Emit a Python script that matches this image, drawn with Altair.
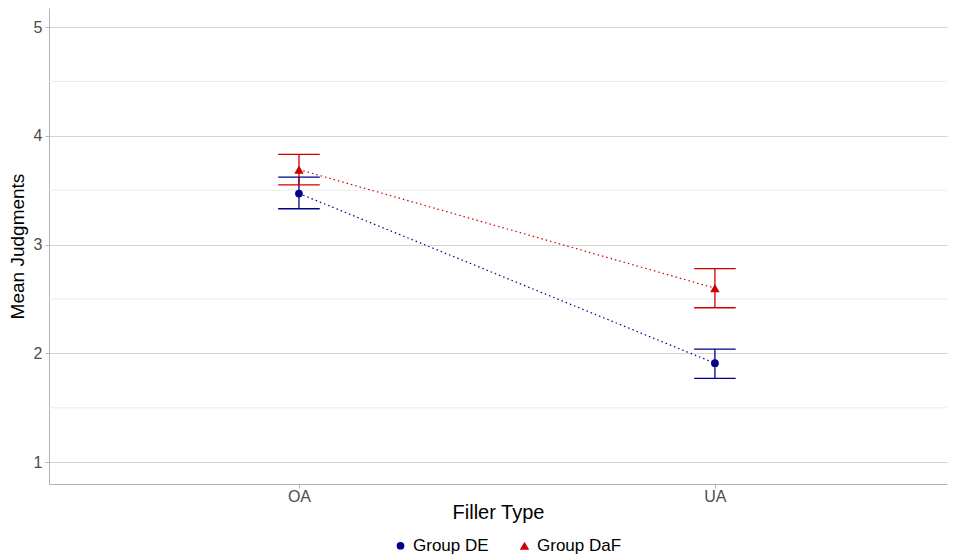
import altair as alt
import pandas as pd

filler = ["OA", "UA"]
groups = ["Group DE", "Group DaF"]
de_mean = [3.47, 1.91]
de_lo = [3.33, 1.77]
de_hi = [3.62, 2.04]
daf_mean = [3.69, 2.60]
daf_lo = [3.55, 2.42]
daf_hi = [3.83, 2.78]
major_ticks = [1, 2, 3, 4, 5]
minor_ticks = [1.5, 2.5, 3.5, 4.5]

rows = []
for g, m, lo, hi in [(groups[0], de_mean, de_lo, de_hi), (groups[1], daf_mean, daf_lo, daf_hi)]:
    for i, f in enumerate(filler):
        rows.append({"group": g, "filler": f, "idx": i + 1, "mean": m[i], "lo": lo[i], "hi": hi[i]})
df = pd.DataFrame(rows)
minor_df = pd.DataFrame({"v": minor_ticks})

colors = ["#00008B", "#CD0000"]
shapes = ["circle", "triangle-up"]
sizes = [60, 90]
FONT = "Liberation Sans"
label_expr = "[" + ",".join("'%s'" % f for f in filler) + "][datum.value-1]"

xscale = alt.Scale(domain=[0.399, 2.558], nice=False, zero=False)
yscale = alt.Scale(domain=[0.8, 5.175], nice=False, zero=False)

x_axis = alt.Axis(values=[1, 2], labelExpr=label_expr, title="Filler Type", grid=False,
                  labelPadding=0, titlePadding=-2, titleFontSize=20)
y_axis = alt.Axis(values=major_ticks, format="d", title="Mean Judgments", grid=True,
                  gridColor="#d4d4d4", gridWidth=1, labelPadding=3, titlePadding=6,
                  titleFontSize=19)

legend = alt.Legend(title=None, orient="none", direction="horizontal", legendX=343, legendY=529)
color_enc = alt.Color("group:N", scale=alt.Scale(domain=groups, range=colors), legend=legend)
shape_enc = alt.Shape("group:N", scale=alt.Scale(domain=groups, range=shapes), legend=legend)
size_enc = alt.Size("group:N", scale=alt.Scale(domain=groups, range=sizes), legend=None)

def X(field):
    return alt.X(field, scale=xscale, axis=x_axis)

def Y(field):
    return alt.Y(field, scale=yscale, axis=y_axis)

base = alt.Chart(df)

minor = alt.Chart(minor_df).mark_rule(color="#ebebeb", strokeWidth=1).encode(y=Y("v:Q"))

lines = base.mark_line(strokeDash=[1.5, 3], strokeWidth=1.2).encode(
    x=X("idx:Q"), y=Y("mean:Q"), color=color_enc, detail="group:N"
)

vbars = base.mark_rule(strokeWidth=1.3).encode(
    x=X("idx:Q"), y=Y("lo:Q"), y2="hi:Q", color=color_enc
)

calc = dict(x1="datum.idx - 0.05", x2="datum.idx + 0.05")
caps_lo = base.transform_calculate(**calc).mark_rule(strokeWidth=1.3).encode(
    x=X("x1:Q"), x2="x2:Q", y=Y("lo:Q"), color=color_enc
)
caps_hi = base.transform_calculate(**calc).mark_rule(strokeWidth=1.3).encode(
    x=X("x1:Q"), x2="x2:Q", y=Y("hi:Q"), color=color_enc
)

points = base.mark_point(filled=True, opacity=1).encode(
    x=X("idx:Q"), y=Y("mean:Q"), color=color_enc, shape=shape_enc, size=size_enc
)

chart = alt.layer(minor, lines, vbars, caps_lo, caps_hi, points).properties(
    width=898, height=476, padding={"left": 0, "top": 0, "right": 0, "bottom": 0}
).configure(font=FONT).configure_view(stroke=None).configure_axis(
    labelFontSize=16, labelColor="#4d4d4d", labelFont=FONT,
    titleFontWeight="normal", titleColor="#000000", titleFont=FONT,
    domainColor="#b3b3b3", tickColor="#b3b3b3", tickSize=4
).configure_legend(
    labelFontSize=17, labelFont=FONT, labelColor="#000000", symbolSize=70,
    symbolStrokeWidth=0, columnPadding=27, symbolOpacity=1
)

chart.save("out.html", embed_options={"renderer": "svg", "actions": False})
